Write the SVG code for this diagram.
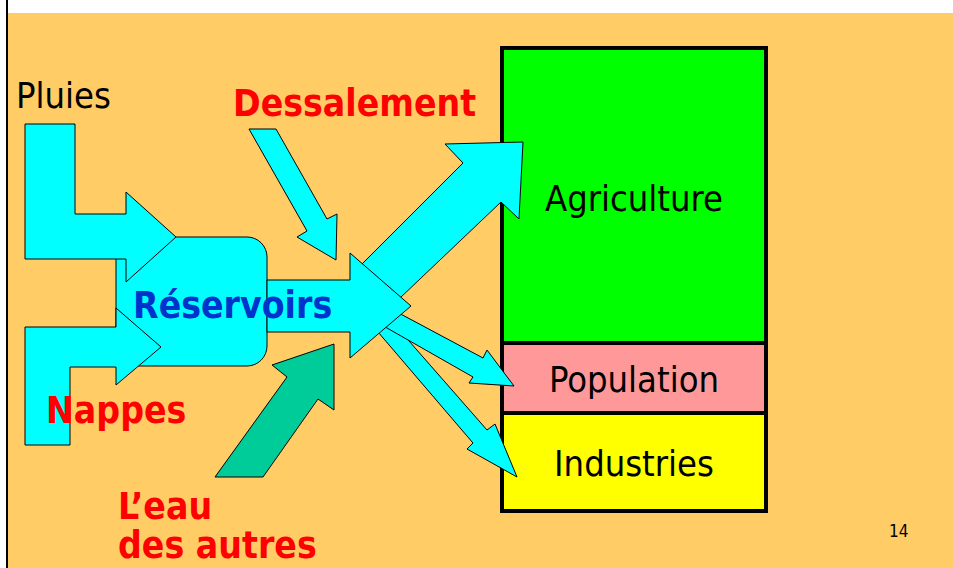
<svg xmlns="http://www.w3.org/2000/svg" width="953" height="568" viewBox="0 0 953 568">
  <style>
    .flow { fill: #00FFFF; stroke: #000; stroke-width: 1; stroke-linejoin: miter; }
    .green { fill: #00CC99; stroke: #000; stroke-width: 1; }
    .box { stroke: #000; stroke-width: 4; }
    .t { font-family: 'DejaVu Sans Condensed', 'DejaVu Sans', sans-serif; font-stretch: condensed; font-size: 36px; }
    .b { font-weight: bold; font-size: 37px; }
    .red { fill: #FF0000; }
  </style>
  <rect x="0" y="0" width="953" height="568" fill="#FFFFFF"/>
  <rect x="8" y="13" width="945" height="555" fill="#FFCC66"/>
  <line x1="7" y1="0" x2="7" y2="568" stroke="#000" stroke-width="2"/>

  <g id="sectors">
    <g id="agriculture">
      <rect class="box" x="502" y="48" width="264" height="295" fill="#00FF00"/>
      <text class="t" x="634" y="211" text-anchor="middle" fill="#000">Agriculture</text>
    </g>
    <g id="population">
      <rect class="box" x="502" y="343" width="264" height="70" fill="#FF9999"/>
      <text class="t" x="634" y="392" text-anchor="middle" fill="#000">Population</text>
    </g>
    <g id="industries">
      <rect class="box" x="502" y="413" width="264" height="98" fill="#FFFF00"/>
      <text class="t" x="634" y="476" text-anchor="middle" fill="#000">Industries</text>
    </g>
  </g>

  <g id="reservoirs">
    <rect class="flow" x="116" y="237" width="151" height="129" rx="20" ry="20"/>
  </g>

  <g id="connectors">
    <polygon id="arrow-pluies" class="flow" points="25,124 75,124 75,214 126,214 126,192 176,237 126,282 126,259 25,259"/>
    <polygon id="arrow-nappes" class="flow" points="25,327 116,327 116,308 161,347 116,385 116,367 70,367 70,445 25,445"/>
    <polygon id="arrow-dessalement" class="flow" points="249,129 276,129 327,219 337,214 336,260 297,237 307,231"/>
    <polygon id="arrow-autres" class="green" points="215,477 263,477 318,399 334,410 334,344 272,365 287,377"/>
    <polygon id="arrow-agriculture" class="flow" points="355,271 463,163 445,144 523,142 519,219 501,202 380,317"/>
    <polygon id="arrow-industries" class="flow" points="395,325 487,430 495,424 517,477 467,449 473,443 372,325"/>
    <polygon id="arrow-population" class="flow" points="395,311 483,358 487,350 514,386 469,383 473,377 380,324"/>
    <polygon id="arrow-central" class="flow" points="267,280 350,280 350,253 411,306 350,358 350,332 267,332"/>
  </g>

  <g id="labels">
    <text class="t" x="16" y="108" fill="#000">Pluies</text>
    <text class="t b red" x="233" y="116">Dessalement</text>
    <text class="t b" x="133" y="318" fill="#0033CC">Réservoirs</text>
    <text class="t b red" x="46" y="423">Nappes</text>
    <text class="t b red" x="118" y="519">L’eau</text>
    <text class="t b red" x="118" y="558">des autres</text>
    <text class="t" x="889" y="537" style="font-size:17px" fill="#000">14</text>
  </g>
</svg>
